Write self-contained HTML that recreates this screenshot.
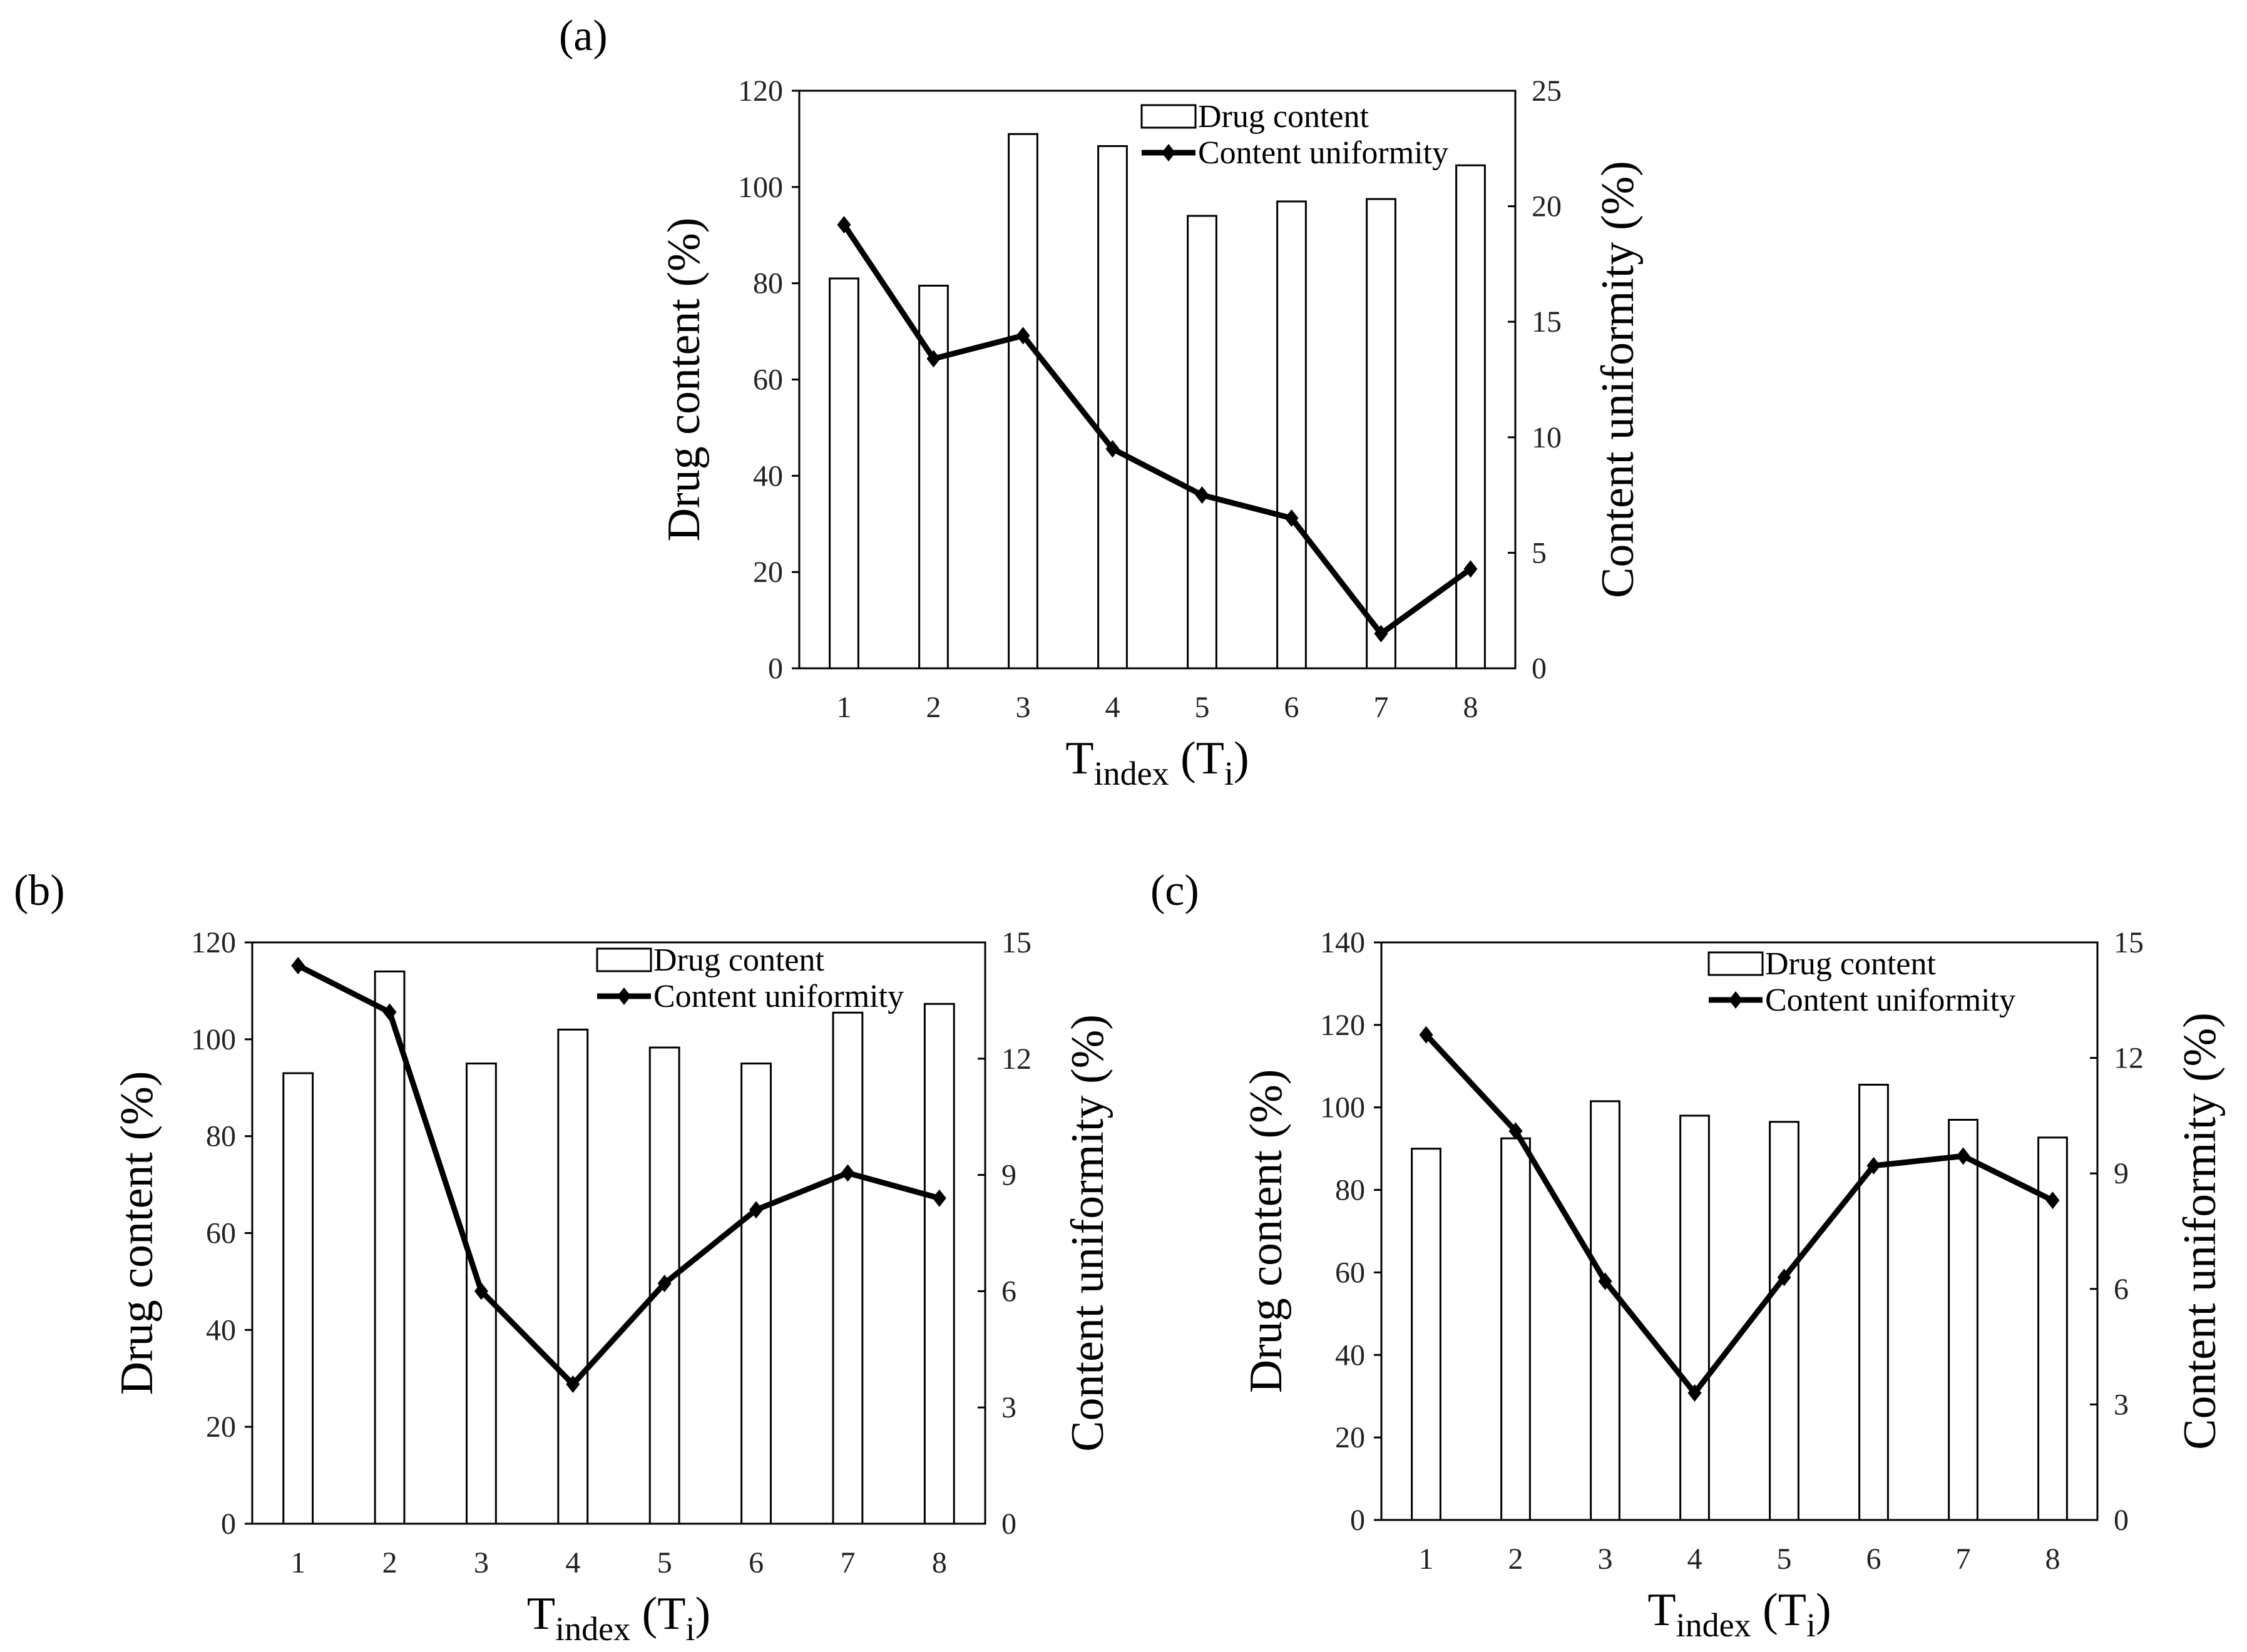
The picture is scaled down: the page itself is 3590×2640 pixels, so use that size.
<!DOCTYPE html>
<html><head><meta charset="utf-8"><style>
html,body{margin:0;padding:0;background:#fff;}
svg{display:block;font-family:"Liberation Serif",serif;}
</style></head><body>
<svg id="fig" width="3590" height="2640" viewBox="0 0 3590 2640"></svg>
<script>
const categories = [1,2,3,4,5,6,7,8];
const drugA = [81,79.5,111,108.5,94,97,97.5,104.5];
const cuA = [19.2,13.4,14.4,9.5,7.5,6.5,1.5,4.3];
const drugB = [93,114,95,102,98.3,95,105.5,107.3];
const cuB = [14.4,13.2,6.0,3.6,6.2,8.1,9.05,8.4];
const drugC = [90,92.5,101.5,98,96.5,105.5,97,92.7];
const cuC = [12.6,10.1,6.2,3.3,6.3,9.2,9.45,8.3];
const leftTicksA = [0,20,40,60,80,100,120];
const rightTicksA = [0,5,10,15,20,25];
const leftTicksB = [0,20,40,60,80,100,120];
const rightTicksB = [0,3,6,9,12,15];
const leftTicksC = [0,20,40,60,80,100,120,140];
const rightTicksC = [0,3,6,9,12,15];

const NS="http://www.w3.org/2000/svg";
const svg=document.getElementById('fig');
function mk(tag,attrs,parent,text){const e=document.createElementNS(NS,tag);for(const k in attrs)e.setAttribute(k,attrs[k]);if(text!==undefined)e.textContent=text;(parent||svg).appendChild(e);return e;}

function panel(id,label,lx,ly,L,R,T,B,drug,cu,lt,rt,legX,legY){
  const g=mk('g',{});
  
  
  const lmax=lt[lt.length-1], rmax=rt[rt.length-1];
  const n=categories.length, slot=(R-L)/n;
  const xs=i=>L+slot*(i+0.5);
  const yl=v=>B-(B-T)*v/lmax;
  const yr=v=>B-(B-T)*v/rmax;
  const pl=mk('text',{x:lx,y:ly,'font-size':70},g,label);
  
  
  const bw=slot*0.32;
  drug.forEach((v,i)=>{
    const r=mk('rect',{x:xs(i)-bw/2,y:yl(v),width:bw,height:B-yl(v),fill:'#fff',stroke:'#000','stroke-width':3},g);
    
    
  });
  const fr=mk('rect',{x:L,y:T,width:R-L,height:B-T,fill:'none',stroke:'#000','stroke-width':3},g);
  
  
  lt.forEach(v=>{
    mk('line',{x1:L-12,x2:L,y1:yl(v),y2:yl(v),stroke:'#000','stroke-width':3},g);
    const t=mk('text',{x:L-26,y:yl(v)+16,'font-size':48,'text-anchor':'end',fill:'#222'},g,v);
    
    
  });
  rt.forEach(v=>{
    mk('line',{x1:R-12,x2:R,y1:yr(v),y2:yr(v),stroke:'#000','stroke-width':3},g);
    const t=mk('text',{x:R+26,y:yr(v)+16,'font-size':48,fill:'#222'},g,v);
    
    
  });
  categories.forEach((c,i)=>{
    const t=mk('text',{x:xs(i),y:B+78,'font-size':48,'text-anchor':'middle',fill:'#222'},g,c);
    
    
  });
  const pts=cu.map((v,i)=>xs(i)+','+yr(v)).join(' ');
  const pline=mk('polyline',{points:pts,fill:'none',stroke:'#000','stroke-width':9,'stroke-linejoin':'round'},g);
  
  
  cu.forEach((v,i)=>{
    const x=xs(i),y=yr(v);
    const m=mk('polygon',{points:`${x},${y-14} ${x+11},${y} ${x},${y+14} ${x-11},${y}`,fill:'#000'},g);
    
    
  });
  const cy=(T+B)/2;
  const yt=mk('text',{x:0,y:0,'font-size':74,'text-anchor':'middle',transform:`translate(${L-160},${cy}) rotate(-90)`},g,'Drug content (%)');
  
  
  const rtt=mk('text',{x:0,y:0,'font-size':74,'text-anchor':'middle',transform:`translate(${R+188},${cy}) rotate(-90)`},g,'Content uniformity (%)');
  
  
  const xt=mk('text',{x:(L+R)/2,y:B+168,'font-size':74,'text-anchor':'middle'},g);
  
  
  mk('tspan',{},xt,'T');
  mk('tspan',{dy:18,'font-size':54},xt,'index');
  mk('tspan',{dy:-18},xt,' (T');
  mk('tspan',{dy:18,'font-size':54},xt,'i');
  mk('tspan',{dy:-18},xt,')');
  const lg=mk('g',{},g);
  
  
  mk('rect',{x:legX,y:legY-18,width:86,height:36,fill:'#fff',stroke:'#000','stroke-width':3},lg);
  const l1=mk('text',{x:legX+90,y:legY+17,'font-size':52},lg,'Drug content');
  
  
  const ly2=legY+58;
  mk('line',{x1:legX,x2:legX+86,y1:ly2,y2:ly2,stroke:'#000','stroke-width':9},lg);
  mk('polygon',{points:`${legX+43},${ly2-14} ${legX+54},${ly2} ${legX+43},${ly2+14} ${legX+32},${ly2}`,fill:'#000'},lg);
  const l2=mk('text',{x:legX+90,y:ly2+17,'font-size':52},lg,'Content uniformity');
  
  
}
panel('a','(a)',893,80,1277,2421,145,1068,drugA,cuA,leftTicksA,rightTicksA,1824,186);
panel('b','(b)',22,1446,403,1574,1506,2435,drugB,cuB,leftTicksB,rightTicksB,954,1534);
panel('c','(c)',1838,1446,2207,3351,1506,2429,drugC,cuC,leftTicksC,rightTicksC,2730,1540);
</script>
</body></html>
